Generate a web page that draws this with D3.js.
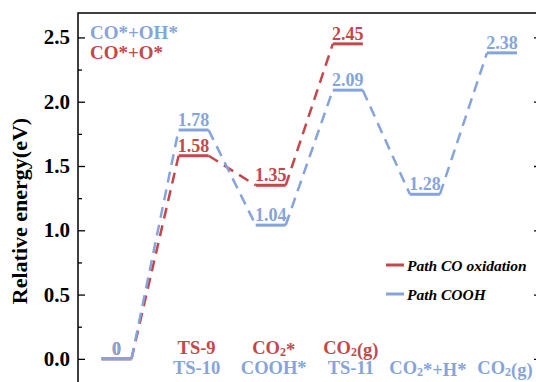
<!DOCTYPE html>
<html>
<head>
<meta charset="utf-8">
<script src="https://cdn.jsdelivr.net/npm/d3@7"></script>
</head>
<body style="margin:0;background:#fff">
<div id="chart"></div>
<script>
// ---- data ----
const coxEnergies  = [0, 1.58, 1.35, 2.45];              // Path CO oxidation
const coohEnergies = [0, 1.78, 1.04, 2.09, 1.28, 2.38];  // Path COOH
const coxLabels  = ['', 'TS-9', 'CO2*', 'CO2(g)'];
const coohLabels = ['', 'TS-10', 'COOH*', 'TS-11', 'CO2*+H*', 'CO2(g)'];
const yTicks = [0, 0.5, 1.0, 1.5, 2.0, 2.5];
const legendNames = ['Path CO oxidation', 'Path COOH'];

const RED = '#c4474b', BLUE = '#86a4dc';
const FONT = "'Liberation Serif', 'Times New Roman', serif";

const W = 536, H = 382;
const plotL = 78, plotR = 541, plotT = 13;

const svg = d3.select('#chart').append('svg')
  .attr('width', W).attr('height', H)
  .style('display', 'block');

const x = d3.scaleLinear().domain([0, 5]).range([116.5, 502]);
const y = d3.scaleLinear().domain([-0.25, 2.69]).range([391, plotT]);
const halfW = 15;

function label(sel) {
  return sel.append('text')
    .style('font-family', FONT)
    .style('font-weight', 'bold');
}

// frame
svg.append('rect')
  .attr('x', plotL).attr('y', plotT)
  .attr('width', plotR - plotL).attr('height', 420)
  .attr('fill', 'none').attr('stroke', '#000').attr('stroke-width', 1.5);

// y axis (ticks inward)
const minor = d3.range(-0.25, 2.7, 0.25).filter(v => Math.abs(v * 2 - Math.round(v * 2)) > 0.01);
function ticks(xPos, axisFn, vals, size) {
  svg.append('g').attr('transform', `translate(${xPos},0)`)
    .call(axisFn(y).tickValues(vals).tickSize(size).tickFormat(''))
    .call(g => g.select('.domain').remove())
    .call(g => g.selectAll('line').attr('stroke-width', 1.3));
}
ticks(plotL, d3.axisRight, yTicks, 7);
ticks(plotL, d3.axisRight, minor, 4);
ticks(plotR, d3.axisLeft, yTicks, 7);
ticks(plotR, d3.axisLeft, minor, 4);

yTicks.forEach(d => {
  label(svg)
    .attr('x', plotL - 8).attr('y', y(d) + 7)
    .attr('text-anchor', 'end')
    .style('font-size', '21px')
    .text(d.toFixed(1));
});

label(svg)
  .attr('transform', 'rotate(-90)')
  .attr('x', -211).attr('y', 27)
  .attr('text-anchor', 'middle')
  .style('font-size', '22px')
  .text('Relative energy(eV)');

// energy profile
function drawPath(vals, color) {
  const g = svg.append('g');
  // dashed connectors
  for (let i = 0; i < vals.length - 1; i++) {
    g.append('line')
      .attr('x1', x(i) + halfW).attr('y1', y(vals[i]))
      .attr('x2', x(i + 1) - halfW).attr('y2', y(vals[i + 1]))
      .attr('stroke', color).attr('stroke-width', 2.5)
      .attr('stroke-dasharray', '11,7');
  }
  // levels
  vals.forEach((d, i) => {
    g.append('line')
      .attr('x1', x(i) - halfW).attr('x2', x(i) + halfW)
      .attr('y1', y(d)).attr('y2', y(d))
      .attr('stroke', color).attr('stroke-width', 3);
    label(g)
      .attr('x', x(i)).attr('y', y(d) - 4)
      .attr('text-anchor', 'middle')
      .attr('fill', color)
      .style('font-size', '18px')
      .text(d === 0 ? '0' : d.toFixed(2));
  });
}
drawPath(coxEnergies, RED);
drawPath(coohEnergies, BLUE);

// state names with subscripts
function nameText(sel, s) {
  const parts = s.split('2');
  parts.forEach((p, k) => {
    sel.append('tspan').text(p);
    if (k < parts.length - 1) {
      sel.append('tspan').attr('dy', 2).style('font-size', '12px').text('2');
      sel.append('tspan').attr('dy', -2).text('');
    }
  });
}
function drawNames(labels, color, baseY) {
  labels.forEach((s, i) => {
    if (!s) return;
    const t = label(svg)
      .attr('x', x(i) + 3).attr('y', baseY)
      .attr('text-anchor', 'middle')
      .attr('fill', color)
      .style('font-size', '18.5px');
    if (s.startsWith('TS')) t.text(s); else nameText(t, s);
  });
}
drawNames(coxLabels, RED, 354);
drawNames(coohLabels, BLUE, 374);

// top-left species
label(svg).attr('x', 90).attr('y', 39).attr('fill', BLUE)
  .style('font-size', '19px').text('CO*+OH*');
label(svg).attr('x', 90).attr('y', 59).attr('fill', RED)
  .style('font-size', '19px').text('CO*+O*');

// legend
const lg = svg.append('g').attr('transform', 'translate(386,265)');
[RED, BLUE].forEach((c, i) => {
  lg.append('line').attr('x1', 0).attr('x2', 18)
    .attr('y1', i * 29).attr('y2', i * 29)
    .attr('stroke', c).attr('stroke-width', 3);
  label(lg).attr('x', 21).attr('y', i * 29 + 6)
    .style('font-size', '15.5px').style('font-style', 'italic')
    .text(legendNames[i]);
});
</script>
</body>
</html>
